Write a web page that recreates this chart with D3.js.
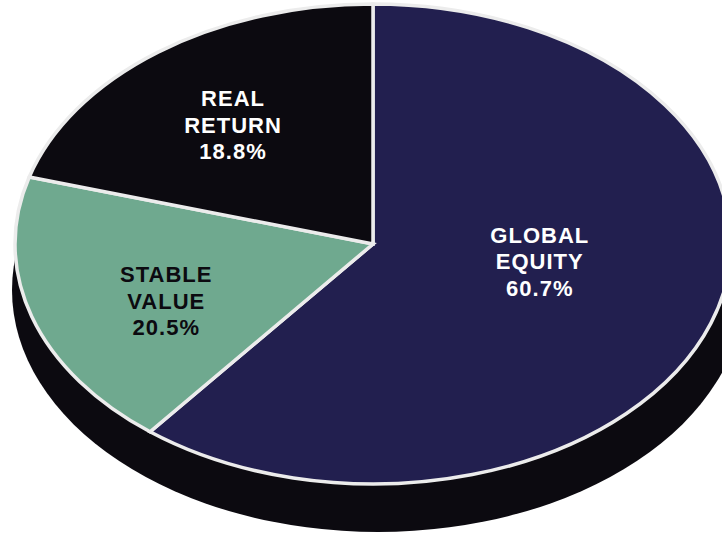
<!DOCTYPE html>
<html>
<head>
<meta charset="utf-8">
<script src="https://cdn.jsdelivr.net/npm/d3@7"></script>
<style>
	body { margin: 0; background: #fff; }
	svg { display: block; }
	.slice-label { font-family: "Liberation Sans", Arial, sans-serif; font-weight: bold; font-size: 22px; letter-spacing: 1px; }
</style>
</head>
<body>
<div id="chart-area"></div>
<script>

// categories, in drawing order (clockwise from 12 o'clock)
let categories = ["GLOBAL EQUITY", "STABLE VALUE", "REAL RETURN"];
// wedge shares as they are drawn in the picture
let wedgeShares = [60.7, 18.8, 20.5];
// printed percentages
let pctLabels = ["60.7%", "20.5%", "18.8%"];
let labelLines = [["GLOBAL", "EQUITY"], ["STABLE", "VALUE"], ["REAL", "RETURN"]];

let colors = ["#221f4f", "#6fa98f", "#0c0a10"];
let textColors = ["#ffffff", "#0c0a10", "#ffffff"];

let width = 722,
	height = 534;

// top face ellipse
let cx = 373, cy = 244, rx = 358, ry = 240;
// side (extrusion)
let depth = 46;

let svg = d3.select("#chart-area").append("svg")
	.attr("width", width)
	.attr("height", height);

let data = categories.map((c, i) => ({name: c, value: wedgeShares[i], i: i}));

// side of the 3d pie
svg.append("ellipse")
	.attr("cx", cx + 5)
	.attr("cy", cy + depth)
	.attr("rx", rx + 8)
	.attr("ry", ry + 2)
	.attr("fill", "#0c0a10");

let pie = d3.pie()
	.sort(null)
	.value(d => d.value);

let arcs = pie(data);

let arc = d3.arc()
	.innerRadius(0)
	.outerRadius(rx);

let topFace = svg.append("g")
	.attr("transform", "translate(" + cx + "," + cy + ") scale(1," + (ry / rx) + ")");

topFace.selectAll("path")
	.data(arcs)
	.enter()
	.append("path")
	.attr("d", arc)
	.attr("fill", d => colors[d.data.i])
	.attr("stroke", "#ececec")
	.attr("stroke-width", 3.5)
	.attr("vector-effect", "non-scaling-stroke");

// labels: centroid of a smaller arc, then nudged
let labelArc = d3.arc()
	.innerRadius(rx * 0.6)
	.outerRadius(rx * 0.6);

let nudge = [[-36, -30], [-2, 13], [-11, -4]];
let lineH = 26.5;

let labels = svg.selectAll("text.slice-label")
	.data(arcs)
	.enter()
	.append("text")
	.attr("class", "slice-label")
	.attr("text-anchor", "middle")
	.attr("fill", d => textColors[d.data.i])
	.attr("transform", d => {
		let c = labelArc.centroid(d);
		let x = cx + c[0] + nudge[d.data.i][0];
		let y = cy + c[1] * ry / rx + nudge[d.data.i][1];
		return "translate(" + x + "," + y + ")";
	});

labels.each(function(d) {
	let lines = labelLines[d.data.i].concat([pctLabels[d.data.i]]);
	d3.select(this).selectAll("tspan")
		.data(lines)
		.enter()
		.append("tspan")
		.attr("x", 0)
		.attr("y", (l, j) => (j - 1) * lineH + 8)
		.text(l => l);
});

</script>
</body>
</html>
